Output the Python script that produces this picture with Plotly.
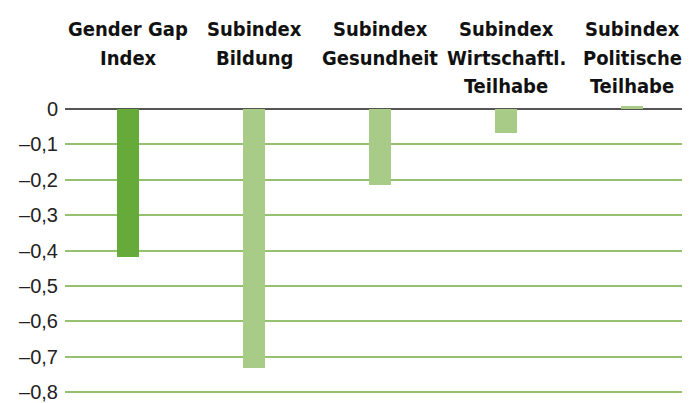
import plotly.graph_objects as go

# Kategorien (oben) und Werte
kategorien = ['Gender Gap<br>Index', 'Subindex<br>Bildung', 'Subindex<br>Gesundheit',
              'Subindex<br>Wirtschaftl.<br>Teilhabe', 'Subindex<br>Politische<br>Teilhabe']
werte = [-0.417, -0.731, -0.214, -0.067, 0.010]
farben = ['#66ab3a', '#a8cb88', '#a8cb88', '#a8cb88', '#a8cb88']

tick_werte = [0, -0.1, -0.2, -0.3, -0.4, -0.5, -0.6, -0.7, -0.8]
tick_texte = ['0', '–0,1', '–0,2', '–0,3', '–0,4', '–0,5', '–0,6', '–0,7', '–0,8']

x_pos = list(range(len(kategorien)))

fig = go.Figure()
fig.add_trace(go.Bar(x=x_pos, y=werte, marker_color=farben, width=0.18,
                     marker_line_width=0, showlegend=False))

# Beschriftungen oben, zeilenweise (oben ausgerichtet)
zeilen_y = [1.251, 1.152, 1.056]
for i, k in enumerate(kategorien):
    for j, zeile in enumerate(k.split('<br>')):
        fig.add_annotation(x=i, xref='x', y=zeilen_y[j], yref='paper', yanchor='middle',
                           text='<b>' + zeile + '</b>', showarrow=False,
                           font=dict(family='DejaVu Sans Condensed, Liberation Sans Narrow, sans-serif',
                                     size=20, color='#111111'))

fig.update_layout(
    width=690, height=403,
    margin=dict(l=57, r=8, t=93.5, b=12.5),
    plot_bgcolor='white', paper_bgcolor='white',
    font=dict(family='Liberation Sans, Arial, sans-serif', size=20, color='#222222'),
    bargap=0,
)
fig.update_xaxes(range=[-0.5, 4.46], showticklabels=False, showgrid=False, zeroline=False)
fig.update_yaxes(range=[-0.803, 0.02], tickvals=tick_werte, ticktext=tick_texte,
                 showgrid=True, gridcolor='#95c16f', gridwidth=1.5,
                 zeroline=True, zerolinecolor='#555555', zerolinewidth=1.5,
                 ticks='', ticklabelstandoff=6, ticklabeloverflow='allow')

fig.write_html('out.html')
